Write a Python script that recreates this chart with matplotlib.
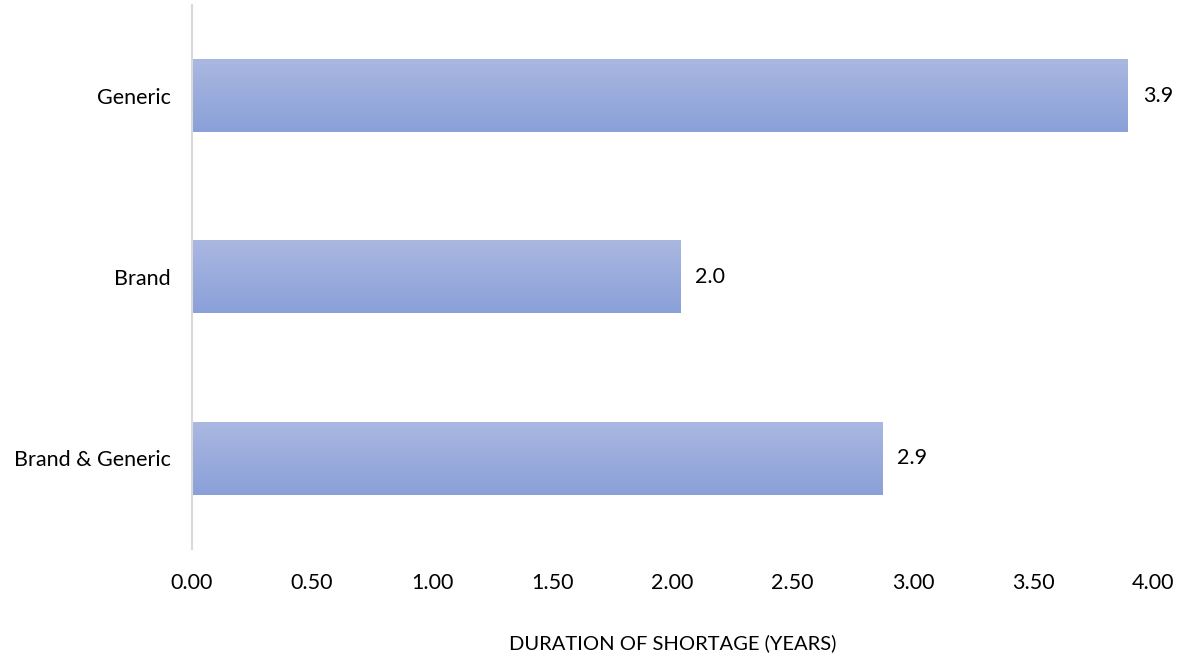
import matplotlib
matplotlib.use("Agg")
import matplotlib.pyplot as plt
import numpy as np
from matplotlib.colors import LinearSegmentedColormap

categories = ["Generic", "Brand", "Brand & Generic"]
values = [3.89, 2.03, 2.87]
value_labels = ["3.9", "2.0", "2.9"]
xticks = [0.0, 0.5, 1.0, 1.5, 2.0, 2.5, 3.0, 3.5, 4.0]

plt.rcParams['font.family'] = ['Lato', 'DejaVu Sans']

fig = plt.figure(figsize=(11.8, 6.56), dpi=100)
ax = fig.add_axes([0.1623, 0.163, 0.8152, 0.8294])

ypos = np.arange(len(categories))
bars = ax.barh(ypos, values, height=0.4, color="none", edgecolor="none")

cmap = LinearSegmentedColormap.from_list("g", ["#aab8e1", "#8aa0d8"])
grad = np.linspace(0, 1, 256).reshape(-1, 1)
for b in bars:
    x0, y0 = b.get_x(), b.get_y()
    w, h = b.get_width(), b.get_height()
    ax.imshow(grad, cmap=cmap, aspect="auto", extent=(x0, x0 + w, y0 + h, y0),
              origin="upper", zorder=2, interpolation="bicubic")

for b, lab in zip(bars, value_labels):
    ax.text(b.get_width() + 0.065, b.get_y() + b.get_height() / 2, lab,
            va="center", ha="left", fontsize=15.5, color="#000000")

ax.set_ylim(2.5, -0.5)
ax.set_xlim(0, 4)
ax.set_yticks(ypos)
ax.set_yticklabels(categories, fontsize=15.5)
ax.set_xticks(xticks)
ax.set_xticklabels([f"{t:.2f}" for t in xticks], fontsize=15.5)
ax.tick_params(axis="both", length=0)
ax.tick_params(axis="x", pad=17)
ax.tick_params(axis="y", pad=15)

for s in ["top", "right", "bottom"]:
    ax.spines[s].set_visible(False)
ax.spines["left"].set_color("#d9d9d9")
ax.spines["left"].set_linewidth(1.5)

ax.set_xlabel("DURATION OF SHORTAGE (YEARS)", fontsize=14.5, labelpad=30)

fig.savefig("out.png", dpi=100)
